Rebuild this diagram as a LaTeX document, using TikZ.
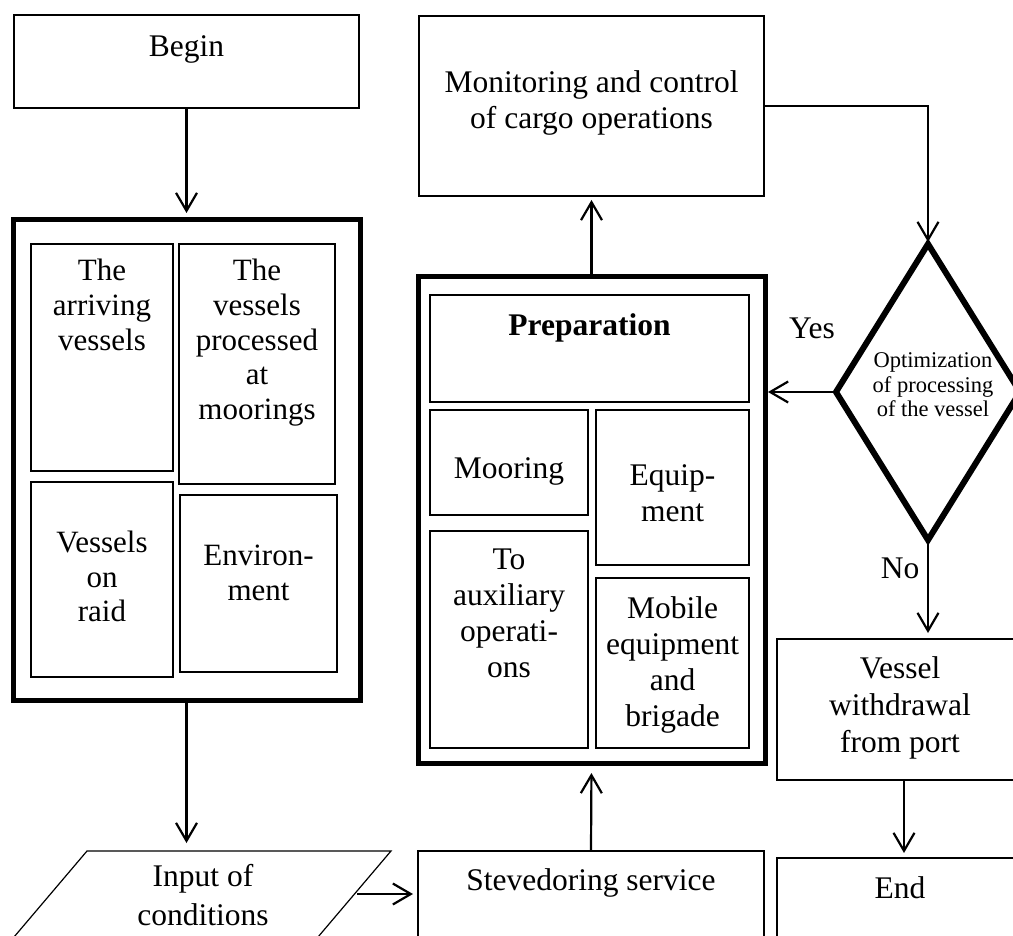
\documentclass[tikz,border=0pt]{standalone}
\usepackage{fontspec}
\setmainfont{Liberation Serif}
\usetikzlibrary{arrows.meta,shapes.geometric}
\tikzset{
  box/.style={draw, line width=2pt, inner sep=0pt, outer sep=0pt, rectangle},
  thinbox/.style={draw, line width=1.3pt, inner sep=0pt, outer sep=0pt, rectangle},
  bigbox/.style={draw, line width=5pt, inner sep=0pt, outer sep=0pt, rectangle},
  txtone/.style={anchor=base, inner sep=0pt, font=\fontsize{31.5}{36}\selectfont},
  txtml/.style={anchor=north, inner sep=0pt, align=center, font=\fontsize{31.5}{36}\selectfont},
  txtleft/.style={anchor=north, inner sep=0pt, align=center, font=\fontsize{31}{34.8}\selectfont},
  arr/.style={line width=2.2pt, -{Straight Barb[length=18pt,width=21pt]}},
}
\begin{document}
\begin{tikzpicture}[x=1pt,y=-1pt]
\clip (0,0) rectangle (1013,936);
\fill[white] (0,0) rectangle (1013,936);

% Begin
\node[box, minimum width=345pt, minimum height=93pt] (begin) at (186.5,61.5) {};
\node[txtone] (tbegin) at (186.5,57) {Begin};

% left big box
\node[bigbox, minimum width=347pt, minimum height=480pt] (leftbox) at (186.5,460) {};
\node[box, minimum width=142pt, minimum height=227pt] (arriving) at (102,357.5) {};
\node[box, minimum width=156pt, minimum height=240pt] (processed) at (257,364) {};
\node[box, minimum width=142pt, minimum height=195pt] (raid) at (102,579.5) {};
\node[thinbox, minimum width=157pt, minimum height=177pt] (env) at (258.5,583.5) {};
\node[txtleft] (tarriving) at (102,258.8) {The\\arriving\\vessels};
\node[txtleft] (tprocessed) at (257,258.8) {The\\vessels\\processed\\at\\moorings};
\node[txtleft] (traid) at (102,530.5) {Vessels\\on\\raid};
\node[txtleft] (tenv) at (258.5,544.5) {Environ-\\ment};

% input parallelogram
\coordinate (inTL) at (87,851);
\coordinate (inTR) at (391,851);
\coordinate (inBR) at (290,970);
\coordinate (inBL) at (-14,970);
\draw[line width=1.2pt, line join=miter] (inTL) -- (inTR) -- (inBR) -- (inBL) -- cycle;
\coordinate (inTop) at (186.5,851);
\coordinate (inR) at (357,894);
\node[txtml, font=\fontsize{31.5}{39}\selectfont] (tinput) at (203,864.5) {Input of\\conditions};

% Stevedoring
\node[box, minimum width=346pt, minimum height=139pt] (stev) at (591,920.5) {};
\node[txtone] (tstev) at (591,890) {Stevedoring service};

% Preparation big box
\node[bigbox, minimum width=347pt, minimum height=486pt] (prep) at (591.5,520) {};
\node[box, minimum width=319pt, minimum height=107pt] (preptitle) at (589.5,348.5) {};
\node[box, minimum width=158pt, minimum height=105pt] (mooring) at (509,462.5) {};
\node[box, minimum width=153pt, minimum height=155pt] (equip) at (672.5,487.5) {};
\node[box, minimum width=158pt, minimum height=217pt] (aux) at (509,639.5) {};
\node[box, minimum width=153pt, minimum height=170pt] (mobile) at (672.5,663) {};
\node[txtone, font=\fontsize{31.5}{36}\selectfont\bfseries] (tpreptitle) at (589.5,336) {Preparation};
\node[txtone] (tmooring) at (509,478) {Mooring};
\node[txtml] (tequip) at (672.5,464.5) {Equip-\\ment};
\node[txtml] (taux) at (509,548.5) {To\\auxiliary\\operati-\\ons};
\node[txtml] (tmobile) at (672.5,596.5) {Mobile\\equipment\\and\\brigade};

% Monitoring
\node[box, minimum width=345pt, minimum height=180pt] (mon) at (591.5,106) {};
\node[txtml] (tmon) at (591.5,70.5) {Monitoring and control\\of cargo operations};

% Diamond
\node[diamond, draw, line width=6pt, inner sep=0pt, outer sep=0pt, minimum width=184pt, minimum height=296pt] (dia) at (928,392) {};
\node[anchor=north, inner sep=0pt, align=center, font=\fontsize{22.5}{24.5}\selectfont] (tdia) at (933,352.6) {Optimization\\of processing\\of the vessel};
\node[txtone] (tyes) at (812,338) {Yes};
\node[txtone] (tno) at (900,578) {No};

% Withdrawal and End
\node[box, minimum width=254pt, minimum height=141pt] (wd) at (904,709.5) {};
\node[txtml, font=\fontsize{31.5}{37}\selectfont] (twd) at (900,656.5) {Vessel\\withdrawal\\from port};
\node[box, minimum width=254pt, minimum height=132pt] (endbox) at (904,924) {};
\node[txtone] (tend) at (900,898) {End};

% connectors
\draw[arr, shorten >=7pt] (begin.south) -- (leftbox.north);
\draw[arr, shorten >=8pt] (leftbox.south) -- (inTop);
\draw[arr, shorten >=5pt] (inR) -- (inR -| stev.west);
\draw[arr, shorten >=10pt] (stev.north) -- (prep.south);
\draw[arr, shorten >=4pt] (prep.north) -- (mon.south);
\draw[arr, shorten >=2pt] (mon.east) -| (dia.north);
\draw[arr, shorten >=3pt] (dia.west) -- (dia.west -| prep.east);
\draw[arr, shorten >=6pt] (dia.south) -- (dia.south |- wd.north);
\draw[arr, shorten >=5pt] (wd.south) -- (endbox.north);
\end{tikzpicture}
\end{document}
